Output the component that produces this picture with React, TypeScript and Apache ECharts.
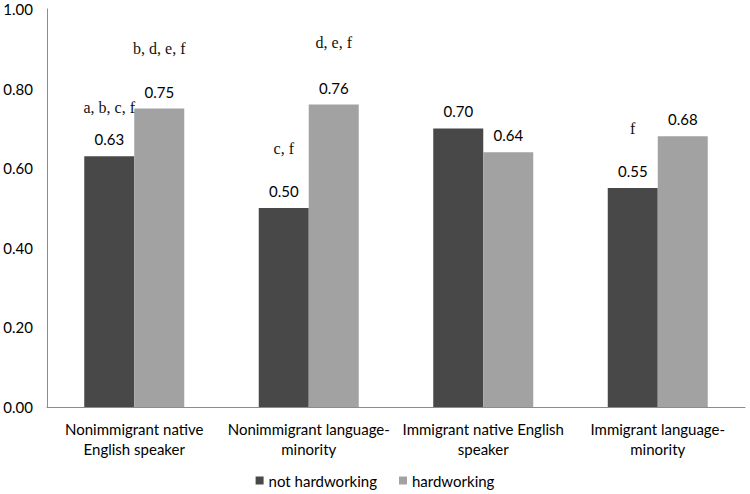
import React, { useEffect, useRef } from "react";
import * as echarts from "echarts";

const categories = [
  "Nonimmigrant native\nEnglish speaker",
  "Nonimmigrant language-\nminority",
  "Immigrant native English\nspeaker",
  "Immigrant language-\nminority",
];
const notHardworking = [0.63, 0.5, 0.7, 0.55];
const hardworking = [0.75, 0.76, 0.64, 0.68];
const notHardworkingNotes = ["a, b, c, f", "c, f", "", "f"];
const hardworkingNotes = ["b, d, e, f", "d, e, f", "", ""];
const yTicks = [0, 0.2, 0.4, 0.6, 0.8, 1.0];

const SANS = "Lato";
const SERIF = "Liberation Serif";

const rich = (gap: number) => ({
  n: { fontFamily: SERIF, fontSize: 16, color: "#111", lineHeight: gap },
  v: { fontFamily: SANS, fontSize: 15, color: "#000", lineHeight: 18 },
});

function makeData(values: number[], notes: string[], gaps: number[]) {
  return values.map((v, i) => {
    const note = notes[i];
    const txt = "{v|" + v.toFixed(2) + "}";
    return {
      value: v,
      label: {
        formatter: note ? "{n|" + note + "}\n" + txt : txt,
        rich: rich(gaps[i]),
      },
    };
  });
}

export default function App() {
  const ref = useRef<HTMLDivElement>(null);
  useEffect(() => {
    if (!ref.current) return;
    const chart = echarts.init(ref.current, null, { renderer: "svg" });
    const valueLabel = {
      show: true,
      position: "top" as const,
      distance: 8,
    };
    chart.setOption({
      animation: false,
      backgroundColor: "#fff",
      grid: { left: 47, right: 5, top: 9, bottom: 87, containLabel: false },
      legend: {
        bottom: 1,
        left: "center",
        itemWidth: 8,
        itemHeight: 8,
        itemGap: 22,
        icon: "rect",
        textStyle: { fontFamily: SANS, fontSize: 15, color: "#000" },
        data: ["not hardworking", "hardworking"],
      },
      xAxis: {
        type: "category",
        data: categories,
        axisLine: { show: true, lineStyle: { color: "#8c8c8c", width: 1 } },
        axisTick: { show: false },
        axisLabel: {
          interval: 0,
          margin: 12,
          fontFamily: SANS,
          fontSize: 15,
          lineHeight: 20,
          color: "#000",
        },
      },
      yAxis: {
        type: "value",
        min: 0,
        max: 1,
        interval: 0.2,
        splitLine: { show: false },
        axisLine: { show: true, lineStyle: { color: "#8c8c8c", width: 1 } },
        axisTick: { show: false },
        axisLabel: {
          margin: 14,
          fontFamily: SANS,
          fontSize: 15,
          color: "#000",
          formatter: (v: number) => (yTicks.includes(Number(v.toFixed(2))) ? v.toFixed(2) : ""),
        },
      },
      series: [
        {
          name: "not hardworking",
          type: "bar",
          barWidth: 50,
          barGap: "0%",
          itemStyle: { color: "#484848" },
          label: valueLabel,
          data: makeData(notHardworking, notHardworkingNotes, [46, 68, 68, 68]),
        },
        {
          name: "hardworking",
          type: "bar",
          barWidth: 50,
          barGap: "0%",
          itemStyle: { color: "#a2a2a2" },
          label: valueLabel,
          data: makeData(hardworking, hardworkingNotes, [68, 72, 68, 68]),
        },
      ],
    });
    return () => chart.dispose();
  }, []);
  return (
    <div
      ref={ref}
      style={{ position: "absolute", left: 0, top: 0, width: 750, height: 494 }}
    />
  );
}
